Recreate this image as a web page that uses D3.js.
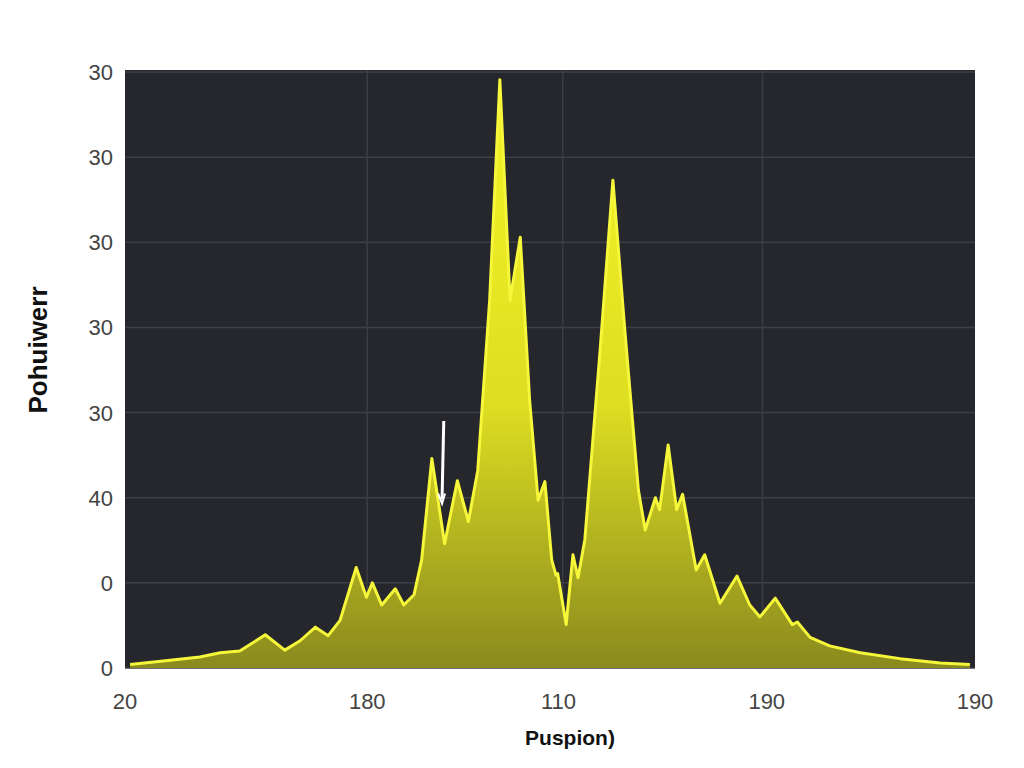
<!DOCTYPE html>
<html><head><meta charset="utf-8">
<script src="https://cdn.jsdelivr.net/npm/d3@7"></script>
<style>body{margin:0;background:#fff}</style></head>
<body><svg id="c" width="1024" height="768"></svg>
<script>
const xs=[0.6,5.3,8.8,11.2,13.5,16.5,18.8,20.6,22.4,23.9,25.3,27.2,28.4,29.1,30.2,31.8,32.8,34.0,34.9,36.1,37.6,39.1,40.4,41.5,42.9,44.1,45.3,46.5,47.6,48.6,49.4,50.2,50.7,50.9,51.9,52.7,53.3,54.1,55.9,57.4,58.8,60.4,61.2,62.4,62.9,63.9,64.9,65.6,67.2,68.2,70.0,72.0,73.5,74.7,76.5,78.5,79.1,80.6,82.9,86.5,91.2,95.9,99.4];
const ys=[0.04,0.09,0.13,0.18,0.20,0.39,0.21,0.32,0.48,0.38,0.56,1.18,0.83,1.00,0.74,0.93,0.74,0.86,1.27,2.46,1.46,2.20,1.72,2.32,4.32,6.91,4.32,5.06,3.15,1.97,2.19,1.27,1.09,1.11,0.51,1.33,1.06,1.51,3.74,5.73,3.97,2.09,1.62,2.00,1.86,2.62,1.86,2.04,1.15,1.33,0.76,1.08,0.74,0.60,0.82,0.51,0.54,0.36,0.26,0.18,0.11,0.06,0.04];
const yTickVals=[0,1,2,3,4,5,6,7];
const yTickLabels=["0","0","40","30","30","30","30","30"];
const xTickVals=[0,28.5,51,75.5,100];
const xTickLabels=["20","180","110","190","190"];
const svg=d3.select("#c");
const L=125,R=975,T=70,B=668;
const x=d3.scaleLinear().domain([0,100]).range([L,R]);
const y=d3.scaleLinear().domain([0,7]).range([B,T+2]);
svg.append("rect").attr("x",L).attr("y",T).attr("width",R-L).attr("height",B-T).attr("fill","#26272c");
const g=svg.append("g");
yTickVals.forEach(v=>g.append("line").attr("x1",L).attr("x2",R).attr("y1",y(v)).attr("y2",y(v)).attr("stroke","#3e4046").attr("stroke-width",1.5));
[28.5,51.5,75].forEach(v=>g.append("line").attr("x1",x(v)).attr("x2",x(v)).attr("y1",T).attr("y2",B).attr("stroke","#3a3c42").attr("stroke-width",1.5));
const grad=svg.append("defs").append("linearGradient").attr("id","gr").attr("x1",0).attr("x2",0).attr("y1",0).attr("y2",1);
grad.append("stop").attr("offset","0%").attr("stop-color","#f4f426");
grad.append("stop").attr("offset","55%").attr("stop-color","#dede22");
grad.append("stop").attr("offset","100%").attr("stop-color","#8a8a1e");
const pts=xs.map((v,i)=>[v,ys[i]]);
svg.append("path").datum(pts).attr("fill","url(#gr)").attr("d",d3.area().x(d=>x(d[0])).y0(B).y1(d=>y(d[1])));
svg.append("path").datum(pts).attr("fill","none").attr("stroke","#f6f63a").attr("stroke-width",3).attr("stroke-linejoin","round").attr("d",d3.line().x(d=>x(d[0])).y(d=>y(d[1])));
yTickVals.forEach((v,i)=>svg.append("text").attr("x",L-12).attr("y",y(v)+8).attr("text-anchor","end").attr("font-family","Liberation Sans,Arial").attr("font-size",22).attr("fill","#444").text(yTickLabels[i]));
xTickVals.forEach((v,i)=>svg.append("text").attr("x",x(v)).attr("y",709).attr("text-anchor","middle").attr("font-family","Liberation Sans,Arial").attr("font-size",22).attr("fill","#444").text(xTickLabels[i]));
svg.append("text").attr("transform","translate(47,350) rotate(-90)").attr("text-anchor","middle").attr("font-family","Liberation Sans,Arial").attr("font-weight","bold").attr("font-size",26).attr("fill","#111").text("Pohuiwerr");
svg.append("text").attr("x",570).attr("y",745).attr("text-anchor","middle").attr("font-family","Liberation Sans,Arial").attr("font-weight","bold").attr("font-size",21).attr("fill","#111").text("Puspion)");
svg.append("line").attr("x1",x(37.5)).attr("x2",x(37.3)).attr("y1",y(2.9)).attr("y2",y(1.98)).attr("stroke","#fff").attr("stroke-width",3);
svg.append("path").attr("d",`M${x(37.3)-4},${y(2.05)} L${x(37.3)},${y(1.93)} L${x(37.3)+3},${y(2.05)}`).attr("stroke","#fff").attr("fill","none").attr("stroke-width",2);
</script></body></html>
